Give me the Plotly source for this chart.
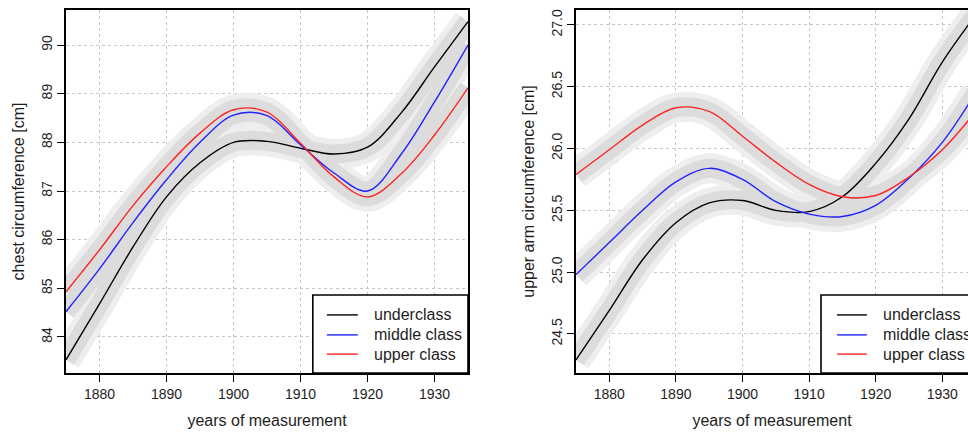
import plotly.graph_objects as go

# ---------------- data ----------------
years = [1875, 1880, 1885, 1890, 1895, 1900, 1905, 1910, 1915, 1920, 1925, 1930, 1935]

chest_under = [83.53, 84.68, 85.85, 86.88, 87.58, 88.00, 88.02, 87.88, 87.76, 87.90, 88.60, 89.55, 90.48]
chest_middle = [84.52, 85.40, 86.35, 87.23, 88.00, 88.56, 88.55, 87.95, 87.37, 87.00, 87.75, 88.83, 90.00]
chest_upper = [84.93, 85.79, 86.70, 87.50, 88.19, 88.67, 88.62, 87.98, 87.29, 86.88, 87.35, 88.15, 89.12]

arm_under = [24.29, 24.69, 25.10, 25.40, 25.56, 25.58, 25.50, 25.49, 25.61, 25.88, 26.24, 26.70, 27.08]
arm_middle = [24.98, 25.24, 25.50, 25.73, 25.84, 25.75, 25.57, 25.47, 25.45, 25.54, 25.76, 26.05, 26.45]
arm_upper = [25.79, 25.99, 26.19, 26.33, 26.30, 26.10, 25.89, 25.71, 25.61, 25.62, 25.77, 25.99, 26.30]

class_labels = ["underclass", "middle class", "upper class"]
class_colors = ["#000000", "#2222ff", "#ff2222"]

x_ticks = [1880, 1890, 1900, 1910, 1920, 1930]
chest_ticks = [84, 85, 86, 87, 88, 89, 90]
arm_ticks = [24.5, 25.0, 25.5, 26.0, 26.5, 27.0]
arm_tick_text = ["24.5", "25.0", "25.5", "26.0", "26.5", "27.0"]

x_title = "years of measurement"
chest_title = "chest circumference [cm]"
arm_title = "upper arm circumference [cm]"

# ---------------- figure ----------------
W, H = 968, 432
FONT = "Liberation Sans, Arial, Helvetica, sans-serif"
TXT = "#1e1e1e"

fig = go.Figure()

panels = [
    ("x", "y", [chest_under, chest_middle, chest_upper]),
    ("x2", "y2", [arm_under, arm_middle, arm_upper]),
]

for xa, ya, series in panels:
    # soft outer band
    for s in series:
        fig.add_trace(go.Scatter(x=years, y=s, xaxis=xa, yaxis=ya, mode="lines",
                                 line=dict(color="#eeeeee", width=30, shape="spline"),
                                 hoverinfo="skip", showlegend=False))
    # inner band
    for s in series:
        fig.add_trace(go.Scatter(x=years, y=s, xaxis=xa, yaxis=ya, mode="lines",
                                 line=dict(color="#dcdcdc", width=19, shape="spline"),
                                 hoverinfo="skip", showlegend=False))
    # curves
    for s, name, col in zip(series, class_labels, class_colors):
        fig.add_trace(go.Scatter(x=years, y=s, xaxis=xa, yaxis=ya, mode="lines", name=name,
                                 line=dict(color=col, width=1.4, shape="spline"),
                                 showlegend=False))

axis_common = dict(
    showline=True, linecolor="black", linewidth=1.8,
    ticks="outside", ticklen=7, tickwidth=1.3, tickcolor="black",
    showgrid=True, gridcolor="#c8c8c8", gridwidth=1, griddash="dot",
    zeroline=False, automargin=False,
    tickfont=dict(family=FONT, size=14, color=TXT),
)

x1_dom = [66 / W, 468 / W]
x2_dom = [576 / W, 1.0]
y_dom = [59 / H, 422 / H]

fig.update_layout(
    width=W, height=H,
    margin=dict(l=0, r=0, t=0, b=0),
    paper_bgcolor="white", plot_bgcolor="white",
    font=dict(family=FONT, color=TXT),
    showlegend=False,
    xaxis=dict(domain=x1_dom, range=[1875, 1935], tickvals=x_ticks, mirror=True,
               title=dict(text=x_title, font=dict(size=16, family=FONT, color=TXT), standoff=14),
               **axis_common),
    yaxis=dict(domain=y_dom, range=[83.26, 90.72], tickvals=chest_ticks, mirror=True,
               tickangle=-90,
               title=dict(text=chest_title, font=dict(size=16, family=FONT, color=TXT), standoff=10),
               **axis_common),
    xaxis2=dict(domain=x2_dom, range=[1875, 1933.86], tickvals=x_ticks, mirror=True, anchor="y2",
                title=dict(text=x_title, font=dict(size=16, family=FONT, color=TXT), standoff=14),
                **axis_common),
    yaxis2=dict(domain=y_dom, range=[24.184, 27.121], tickvals=arm_ticks, ticktext=arm_tick_text,
                mirror=False, anchor="x2", tickangle=-90,
                title=dict(text=arm_title, font=dict(size=16, family=FONT, color=TXT), standoff=10),
                **axis_common),
)

# ---------------- legends (bottom-right of each panel) ----------------
legend_specs = [
    ("x domain", "y domain", 0.614, 1.0, 0.649, 0.726, 0.761),
    ("x2 domain", "y2 domain", 0.625, 1.03, 0.666, 0.742, 0.778),
]
entry_y = [0.160, 0.105, 0.052]
for xr, yr, bx0, bx1, lx0, lx1, tx in legend_specs:
    fig.add_shape(type="rect", xref=xr, yref=yr, x0=bx0, x1=bx1, y0=0, y1=0.215,
                  line=dict(color="black", width=1.6), fillcolor="white", layer="above")
    for lab, col, ey in zip(class_labels, class_colors, entry_y):
        fig.add_shape(type="line", xref=xr, yref=yr, x0=lx0, x1=lx1, y0=ey, y1=ey,
                      line=dict(color=col, width=1.4), layer="above")
        fig.add_annotation(xref=xr, yref=yr, x=tx, y=ey, text=lab, showarrow=False,
                           xanchor="left", yanchor="middle",
                           font=dict(family=FONT, size=16, color=TXT))

fig.write_html("out.html")
